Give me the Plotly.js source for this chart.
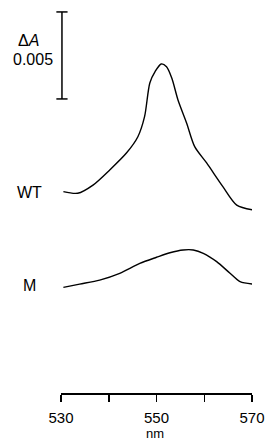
<!DOCTYPE html>
<html>
<head>
<meta charset="utf-8">
<script src="https://cdn.plot.ly/plotly-3.0.1.min.js"></script>
<style>html,body{margin:0;padding:0;background:#fff;}#chart{width:268px;height:442px;}</style>
</head>
<body>
<div id="chart"></div>
<script>
// Wavelength (nm) and ΔA (with vertical offsets as drawn in the figure)
const wtNm = [530.5, 533.5, 536.7, 540.2, 543.7, 546.1, 547.5, 548.6, 549.7, 551.0, 552.1, 553.2, 554.5, 556.3, 558.0, 560.5, 563.9, 566.8, 570.2];
const wtDA = [0.01157, 0.01148, 0.01195, 0.01282, 0.01379, 0.01473, 0.01588, 0.01782, 0.01847, 0.01891, 0.01875, 0.01810, 0.01684, 0.01552, 0.01416, 0.01322, 0.01186, 0.01080, 0.01052];
const mNm = [530.5, 533.9, 538.1, 542.3, 546.5, 550.0, 552.8, 555.6, 557.7, 559.8, 562.6, 565.4, 567.5, 570.3];
const mDA = [0.00607, 0.00626, 0.00649, 0.00688, 0.00745, 0.00780, 0.00806, 0.00822, 0.00822, 0.00803, 0.00755, 0.00688, 0.00640, 0.00626];
const scaleBarNm = [530.2, 530.2];
const scaleBarDA = [0.0169, 0.0219];
const tickVals = [530, 540, 550, 560, 570];
const tickText = ['530', '', '550', '', '570'];

const font = {family: 'Liberation Sans, Arial, sans-serif', size: 16, color: '#000'};
const tickFont = {family: 'Liberation Sans, Arial, sans-serif', size: 15, color: '#000'};
const nmFont = {family: 'Liberation Sans, Arial, sans-serif', size: 13, color: '#000'};

const traces = [
  {x: wtNm, y: wtDA, mode: 'lines', line: {color: '#000', width: 1.4, shape: 'spline', smoothing: 0.8}, hoverinfo: 'skip'},
  {x: mNm, y: mDA, mode: 'lines', line: {color: '#000', width: 1.4, shape: 'spline', smoothing: 0.8}, hoverinfo: 'skip'},
  {x: scaleBarNm, y: scaleBarDA, mode: 'lines+markers', line: {color: '#000', width: 1.5},
   marker: {symbol: 'line-ew-open', size: 8, line: {color: '#000', width: 1.5}}, cliponaxis: false, hoverinfo: 'skip'}
];

const ann = (x, y, text, ya, f) => ({x: x, y: y, xref: 'paper', yref: 'paper', text: text, showarrow: false,
  xanchor: 'center', yanchor: ya || 'middle', borderpad: 0, font: f || font});

const layout = {
  width: 268, height: 442,
  margin: {l: 61, r: 16, t: 0, b: 49},
  showlegend: false,
  paper_bgcolor: '#fff', plot_bgcolor: '#fff',
  font: font,
  xaxis: {
    range: [530, 570], showline: true, linecolor: '#000', linewidth: 1.5,
    ticks: 'outside', ticklen: 7, tickwidth: 1.5, tickcolor: '#000',
    tickvals: tickVals, ticktext: tickText, showgrid: false, zeroline: false,
    tickfont: tickFont, ticklabelstandoff: 3
  },
  yaxis: {range: [0, 0.022586], visible: false, showgrid: false, zeroline: false},
  annotations: [
    ann(-0.165, 0.510, 'WT'),
    ann(-0.1675, 0.2723, 'M'),
    ann(-0.170, 0.898, 'Δ<i>A</i>'),
    ann(-0.149, 0.8486, '0.005'),
    ann(0.492, -0.1247, 'nm', 'bottom', nmFont)
  ]
};

Plotly.newPlot('chart', traces, layout, {staticPlot: true, displayModeBar: false});
</script>
</body>
</html>
